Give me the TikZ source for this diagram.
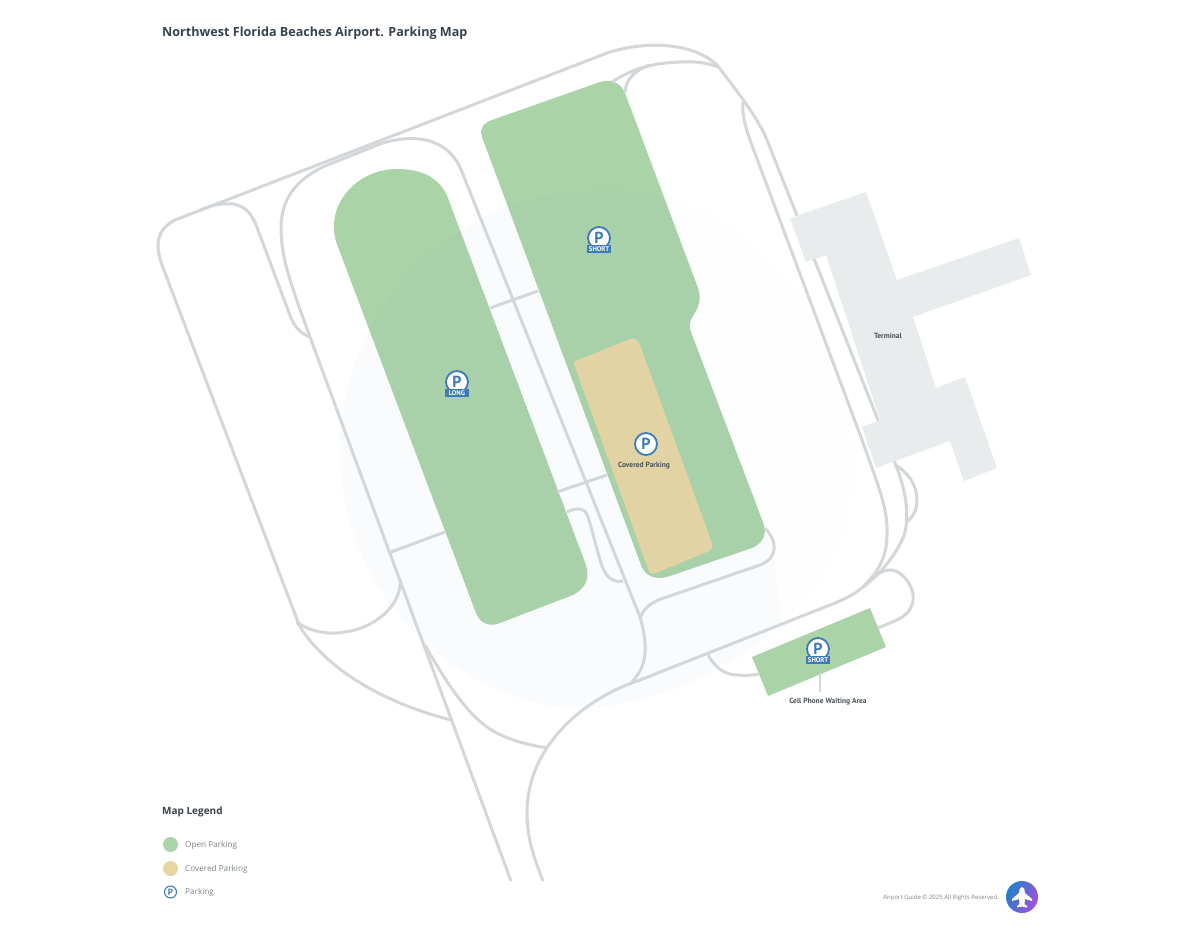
\documentclass[tikz,border=0pt]{standalone}
\usepackage{fontspec}
\setmainfont{Open Sans}
\newfontfamily\labelfont{PT Sans}
\definecolor{roadgray}{HTML}{D3D7DA}
\definecolor{opengreen}{HTML}{ABD3A8}
\definecolor{coveredtan}{HTML}{E6D6A2}
\definecolor{terminalgray}{HTML}{E8ECEC}
\definecolor{signblue}{HTML}{3F7AB8}
\definecolor{blobblue}{HTML}{82AAE6}
\definecolor{titleink}{HTML}{39424C}
\definecolor{labelink}{HTML}{4A5258}
\definecolor{legendink}{HTML}{7E8488}
\definecolor{badgeblue}{HTML}{1F82CC}
\definecolor{badgepurple}{HTML}{A64FDA}
\begin{document}
\begin{tikzpicture}[x=1pt, y=-1pt,
            road/.style={draw=roadgray, line width=3pt},
            open lot/.style={fill=opengreen},
            park sign/.style={circle, draw=signblue, fill=white, line width=1.8pt, inner sep=0pt, minimum width=22pt, text=signblue, font=\fontsize{16}{16}\labelfont\bfseries},
            park tag/.style={fill=signblue, text=white, inner sep=0pt, minimum width=24pt, minimum height=7.5pt, font=\fontsize{6.8}{6.8}\labelfont\bfseries},
            map label/.style={text=labelink, inner sep=0pt, font=\fontsize{7.5}{8}\labelfont\bfseries},
            legend text/.style={text=legendink, anchor=west, inner sep=0pt, font=\fontsize{8.2}{10}\selectfont}]
            \useasboundingbox (0,0) rectangle (1200,927);
            \fill[white] (0,0) rectangle (1200,927);
            \tikzset{legend dot/.style={circle, inner sep=0pt, minimum width=15pt}}
            \def\blobpath{(340,450) .. controls (340,330) and (430,190) .. (610,190) .. controls (760,190) and (852,340) .. (852,470) .. controls (852,570) and (790,610) .. (780,625) .. controls (720,680) and (640,708) .. (573,708) .. controls (450,700) and (340,590) .. (340,450) -- cycle}
            % lots
            \fill[open lot] (397,169) .. controls (425,169) and (441,180) .. (448,198) -- (586,565) .. controls (590,578) and (586,588) .. (573,595) -- (500,623) .. controls (490,627) and (480,624) .. (476,613) -- (338,247) .. controls (322,208) and (355,169) .. (397,169) -- cycle;
            \fill[open lot] (600,82) .. controls (612,78) and (621,84) .. (625,93) -- (698,288) .. controls (702,300) and (698,308) .. (693,316) .. controls (689,322) and (689,327) .. (691,332) -- (764,525) .. controls (767,535) and (762,544) .. (752,548) -- (670,576) .. controls (655,581) and (645,576) .. (641,565) -- (482,137) .. controls (479,128) and (484,123) .. (492,120) -- cycle;
            \fill[coveredtan] (630,339) .. controls (635,337) and (638,340) .. (640,345) -- (712,543) .. controls (713,548) and (711,551) .. (707,552) -- (656,573) .. controls (652,575) and (649,573) .. (648,569) -- (575,367) .. controls (573,363) and (574,361) .. (578,360) -- cycle;
            \fill[open lot] (752,657) -- (870,608) -- (886,647) -- (768,696) -- cycle;
            \fill[blobblue, opacity=0.006] \blobpath;
            \begin{scope}
                \clip (300,150) -- (605,80) -- (625,93) -- (698,288) -- (700,300) -- (691,330) -- (764,525) -- (775,560) -- (790,720) -- (300,720) -- cycle;
                \fill[blobblue, opacity=0.03] \blobpath;
            \end{scope}
            % roads
            \draw[road] (511,881) -- (310,337) .. controls (293,290) and (281,260) .. (281,228) .. controls (281,200) and (295,180) .. (325,166) -- (380,144) .. controls (410,134) and (448,135) .. (462,172) -- (640,617) .. controls (648,645) and (648,665) .. (632,682);
            \draw[road] (298,622) -- (162,265) .. controls (155,245) and (156,230) .. (175,220) -- (607,53) .. controls (640,42) and (690,40) .. (717,65) .. controls (730,82) and (758,117) .. (767,140) -- (895,463) .. controls (906,490) and (909,512) .. (905,532) .. controls (900,550) and (880,575) .. (863,587);
            \draw[road] (743,102) .. controls (742,115) and (745,125) .. (750,140) -- (862,440) .. controls (880,490) and (888,510) .. (887,535) .. controls (887,560) and (875,575) .. (863,587) .. controls (850,598) and (835,603) .. (820,609) -- (640,680) .. controls (585,698) and (527,745) .. (527,813) .. controls (527,840) and (535,860) .. (543,881);
            \draw[road] (200,210) .. controls (212,205) and (222,203) .. (233,204) .. controls (245,206) and (252,213) .. (258,230) -- (291,318) .. controls (295,328) and (302,334) .. (310,337);
            \draw[road] (297,622) .. controls (310,632) and (330,635) .. (345,632) .. controls (375,628) and (402,605) .. (400,580);
            \draw[road] (297,622) .. controls (325,670) and (385,703) .. (451,720);
            \draw[road] (425,645) .. controls (450,690) and (470,715) .. (487,727) .. controls (505,740) and (530,745) .. (547,748);
            \draw[road] (490,308) -- (538,291);
            \draw[road] (391,552) -- (445,532);
            \draw[road] (557,492) -- (607,475);
            \draw[road] (567,512) .. controls (578,507) and (586,507) .. (589,520) -- (600,560) .. controls (605,577) and (612,583) .. (623,581);
            \draw[road] (640,620) .. controls (642,610) and (648,605) .. (658,600) -- (760,565) .. controls (778,558) and (778,542) .. (765,528);
            \draw[road] (612,82) .. controls (630,70) and (650,63) .. (680,62) .. controls (695,61) and (708,63) .. (718,67);
            \draw[road] (625,93) .. controls (625,80) and (635,70) .. (650,65);
            \draw[road] (895,465) .. controls (908,472) and (917,485) .. (917,500) .. controls (917,510) and (913,517) .. (907,522);
            \draw[road] (863,587) .. controls (872,577) and (882,569) .. (892,570) .. controls (905,572) and (915,590) .. (913,600) .. controls (912,610) and (905,616) .. (897,620) -- (878,628);
            \draw[road] (707,653) .. controls (715,668) and (725,675) .. (738,675) .. controls (745,676) and (752,675) .. (760,674);
            % terminal
            \fill[terminalgray] (790,218) -- (866,192) -- (897,280) -- (1019,238) -- (1031,275) -- (913,317) -- (936,388) -- (965,377) -- (997,468) -- (964,481) -- (950,441) -- (876,468) -- (862,427) -- (880,420) -- (826,255) -- (806,262) -- cycle;
            \node[map label] (terminal) at (888,335.5) {Terminal};
            % signs
            \node[park sign] (shortsign) at (599,238) {P};
            \node[park tag] (shorttag) at (599,249) {SHORT};
            \node[park sign] (longsign) at (457,382) {P};
            \node[park tag] (longtag) at (457,393) {LONG};
            \node[park sign] (coveredsign) at (646,444) {P};
            \node[map label] (coveredlabel) at (644,466) {Covered Parking};
            \node[park sign] (cellsign) at (818,649) {P};
            \node[park tag] (celltag) at (818,660) {SHORT};
            \node[map label] (celllabel) at (828,702) {Cell Phone Waiting Area};
            \coordinate (stemtop) at (820,673);
            \coordinate (stemend) at (820,692);
            \draw[roadgray, line width=1.2pt] (stemtop) -- (stemend);
            % title and legend
            \node[anchor=west, inner sep=0pt, text=titleink, font=\fontsize{12.6}{15}\selectfont\bfseries] (title) at (162,33.5) {Northwest Florida Beaches Airport. Parking Map};
            \node[anchor=west, inner sep=0pt, text=titleink, font=\fontsize{10}{12}\selectfont\bfseries] (legendtitle) at (162,812) {Map Legend};
            \node[legend dot, fill=opengreen] (opendot) at (170.5,844.5) {};
            \node[legend text] (opentext) at (185,845.5) {Open Parking};
            \node[legend dot, fill=coveredtan] (covereddot) at (170.5,868.5) {};
            \node[legend text] (coveredtext) at (185,869.5) {Covered Parking};
            \node[park sign, minimum width=12pt, line width=1.1pt, font=\fontsize{9}{9}\labelfont\bfseries] (parkdot) at (170.5,892) {P};
            \node[legend text] (parktext) at (185,892.5) {Parking};
            % footer
            \node[anchor=east, inner sep=0pt, text=legendink, font=\fontsize{6}{7}\selectfont] (footer) at (999,897.5) {Airport Guide © 2025 All Rights Reserved.};
            \shade[left color=badgeblue, right color=badgepurple, shading angle=65] (1022,897) circle (16);
            \fill[white] (1022,887) .. controls (1024,887) and (1025,890) .. (1025,893) -- (1032,899) -- (1032,901) -- (1025,899) -- (1024.5,904) -- (1027,906) -- (1027,907.5) -- (1022,906.5) -- (1017,907.5) -- (1017,906) -- (1019.5,904) -- (1019,899) -- (1012,901) -- (1012,899) -- (1019,893) .. controls (1019,890) and (1020,887) .. (1022,887) -- cycle;
        \end{tikzpicture}
\end{document}
